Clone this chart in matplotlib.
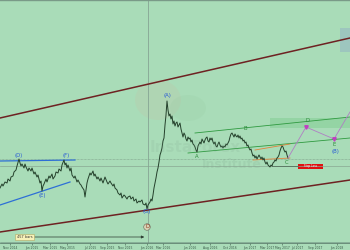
import matplotlib
matplotlib.use("Agg")
import matplotlib.pyplot as plt
from matplotlib.patches import Rectangle, Ellipse

# price path (bar index, price level)
bar_x = [0, 2, 3, 5, 7, 8, 10, 11, 13, 14, 16, 17, 19, 20, 21, 22, 24, 25, 26, 28, 29, 31, 32, 34, 35, 37, 38,
         40, 41, 42, 43, 44, 46, 47, 49, 50, 52, 53, 55, 56, 58, 59, 61, 62, 64, 65, 66, 67, 68, 70, 71, 72,
         74, 75, 77, 78, 80, 81, 82, 84, 85, 86, 87, 88, 90, 91, 93, 94, 95, 97, 98, 100, 101, 103, 104, 105,
         107, 108, 110, 111, 113, 114, 115, 117, 118, 120, 121, 122, 124, 125, 127, 128, 130, 131, 133, 134,
         136, 137, 139, 140, 142, 143, 145, 146, 147, 148, 150, 151, 152, 153, 154, 155, 156, 157, 158, 159,
         160, 161, 162, 163, 164, 165, 166, 167, 168, 169, 170, 171, 172, 173, 174, 175, 176, 177, 178, 179,
         180, 181, 182, 183, 184, 185, 186, 187, 188, 189, 190, 191, 192, 193, 194, 195, 196, 197, 198, 199,
         200, 201, 202, 203, 204, 205, 206, 207, 208, 209, 210, 211, 212, 213, 214, 215, 216, 217, 218, 219,
         220, 221, 222, 223, 224, 225, 226, 227, 228, 229, 230, 231, 232, 233, 234, 235, 236, 237, 238, 239,
         240, 241, 242, 243, 244, 245, 246, 247, 248, 249, 250, 251, 252, 253, 254, 255, 256, 257, 258, 259,
         260, 261, 262, 263, 264, 265, 266, 267, 268, 269, 270, 271, 272, 273, 274, 275, 276, 277, 278, 279,
         280, 281, 282, 283, 284, 285, 286, 287, 288]
close = [62, 66, 64, 68, 67, 71, 69, 73, 74, 78, 80, 84, 91, 87, 84, 86, 82, 86, 83, 79, 82, 79, 82, 76, 78, 73, 75,
         67, 69, 59, 64, 66, 71, 68, 74, 72, 76, 71, 74, 78, 77, 81, 79, 85, 90, 85, 87, 82, 85, 79, 82, 75,
         72, 74, 68, 70, 66, 65, 63, 60, 53, 60, 67, 71, 77, 75, 79, 74, 76, 71, 73, 69, 72, 67, 70, 73,
         68, 66, 69, 67, 64, 66, 62, 60, 57, 55, 57, 52, 55, 54, 51, 53, 54, 51, 53, 49,
         51, 47, 49, 48, 50, 46, 45, 47, 41, 45, 48, 51, 49, 55, 62, 67, 72, 78, 82, 88,
         95, 98, 102, 109, 112, 125, 135, 149, 140, 134, 136, 131, 134, 126, 129, 124, 127, 128, 123, 125,
         127, 121, 117, 113, 117, 115, 111, 109, 113, 111, 112, 108, 110, 106, 105, 103, 100, 98, 104, 106,
         108, 106, 111, 109, 107, 110, 112, 113, 109, 108, 112, 110, 112, 108, 106, 108, 104, 103, 106, 108,
         105, 103, 104, 102, 104, 103, 106, 105, 107, 109, 113, 116, 117, 115, 113, 116, 114, 113, 115, 112,
         114, 111, 112, 109, 110, 107, 108, 104, 105, 102, 100, 101, 97, 94, 95, 92, 94, 91, 93, 95,
         93, 91, 93, 90, 92, 88, 86, 88, 85, 84, 83, 85, 84, 87, 88, 90, 89, 92, 93, 95,
         99, 102, 104, 103, 100, 98, 99, 95, 92]

# projected wave path C-D-E and beyond
proj_x = [288, 306, 334, 350]
proj_y = [92, 123, 111, 138]

# date ticks on the time axis
tick_pos = [10, 32, 50, 67, 90, 107, 125, 147, 163, 190, 210, 230, 250, 267, 282, 297, 315, 337]
tick_lab = ["Nov 2014", "Jan 2015", "Mar 2015", "May 2015", "Jul 2015", "Sep 2015", "Nov 2015",
            "Jan 2016", "Mar 2016", "Jun 2016", "Aug 2016", "Oct 2016", "Jan 2017", "Mar 2017",
            "May 2017", "Jul 2017", "Sep 2017", "Jan 2018"]

# wave labels
big_waves = ["(D)", "(E)", "(F)", "(G)", "(A)", "(B)"]
big_x = [19, 42, 66, 147, 167, 335]
big_y = [94, 54, 95, 38, 154, 98]
small_waves = ["A", "B", "C", "D", "E"]
small_x = [197, 245, 287, 308, 334]
small_y = [93, 122, 88, 129, 105]

BG = "#a9dcb8"

fig = plt.figure(figsize=(3.5, 2.5), dpi=100, facecolor=BG)
ax = fig.add_axes([0, 7 / 250, 1, 243 / 250])
ax.set_facecolor(BG)
ax.set_xlim(0, 350)
ax.set_ylim(7, 250)

# faint watermark
ax.add_patch(Ellipse((158, 150), 46, 40, color="#e0a890", alpha=0.12, lw=0))
ax.add_patch(Ellipse((188, 142), 36, 26, color="#8fc79c", alpha=0.15, lw=0))
ax.text(195, 103, "InstaForex", fontsize=11, color="#7fa58c", alpha=0.15,
        ha="center", va="center", fontweight="bold")
ax.text(232, 86, "Institute", fontsize=9, color="#7fa58c", alpha=0.2,
        ha="center", va="center", fontweight="bold")

# shaded zones
ax.add_patch(Rectangle((270, 122), 80, 10, color="#8fd3a0", alpha=0.8, lw=0))
ax.add_patch(Rectangle((340, 198), 10, 24, color="#9cc4bf", alpha=0.9, lw=0))

# level lines
ax.axhline(91, color="#7d9e88", lw=0.5, ls=(0, (1, 1)))
ax.axhline(84, color="#88a792", lw=0.5)
ax.plot([272, 298], [84, 84], color="#5d7a66", lw=0.7)
ax.axvline(148, color="#86a493", lw=0.6)
ax.axhline(8.5, color="#6f9080", lw=0.4)

# long-term channel
ax.plot([0, 350], [132, 212], color="#6e2222", lw=1.1)
ax.plot([0, 350], [18, 70], color="#6e2222", lw=1.1)

# triangle lines
ax.plot([0, 75], [89, 90], color="#2d6fd6", lw=0.9)
ax.plot([0, 70], [45, 68], color="#2d6fd6", lw=0.9)

# current channels
ax.plot([195, 350], [117, 133], color="#2f9a40", lw=0.6)
ax.plot([188, 350], [97, 112], color="#2f9a40", lw=0.6)
ax.plot([255, 290], [100, 106], color="#e0823c", lw=0.6)
ax.plot([253, 290], [90, 92], color="#e0823c", lw=0.6)

# price
ax.plot(bar_x, close, color="#24402b", lw=0.7)

# projection
ax.plot(proj_x, proj_y, color="#b07ec4", lw=0.6)
ax.plot(proj_x[1:3], proj_y[1:3], ls="none", marker="v", ms=2.5, color="#c040c0")

# stop box
ax.add_patch(Rectangle((298, 81), 25, 5, color="#e01010", lw=0))
ax.text(310.5, 83.5, "Stop Loss", fontsize=2, color="white", ha="center", va="center")

# bars count arrow
ax.annotate("", xy=(147, 13), xytext=(15, 13),
            arrowprops=dict(arrowstyle="-|>", color="#2b3a30", lw=0.5, mutation_scale=4))
ax.text(24.5, 13, "457 bars", fontsize=2.5, color="#333333", ha="center", va="center",
        bbox=dict(boxstyle="square,pad=0.4", fc="#f6f1b8", ec="#b0a860", lw=0.4))

for lab, x, y in zip(big_waves, big_x, big_y):
    ax.text(x, y, lab, fontsize=3.8, color="#2456d6", ha="center", va="center")
for lab, x, y in zip(small_waves, small_x, small_y):
    ax.text(x, y, lab, fontsize=3.8, color="#2a8a38", ha="center", va="center")
ax.text(147, 23, "D", fontsize=3.8, color="#8a3a20", ha="center", va="center",
        bbox=dict(boxstyle="circle,pad=0.15", fc="#d8d2b4", ec="#6a6a5a", lw=0.4))

# time axis
ax.set_xticks(tick_pos)
ax.set_xticklabels(tick_lab, fontsize=2.2, color="#3a5a48")
ax.tick_params(axis="x", length=1.5, width=0.4, pad=0.8, color="#3a5a48")
ax.set_yticks([])
for side in ["left", "right"]:
    ax.spines[side].set_visible(False)
ax.spines["bottom"].set_color("#5f8070")
ax.spines["bottom"].set_linewidth(0.6)
ax.spines["top"].set_color("#7a9a88")
ax.spines["top"].set_linewidth(1.0)

fig.savefig("out.png", dpi=100, facecolor=BG)
